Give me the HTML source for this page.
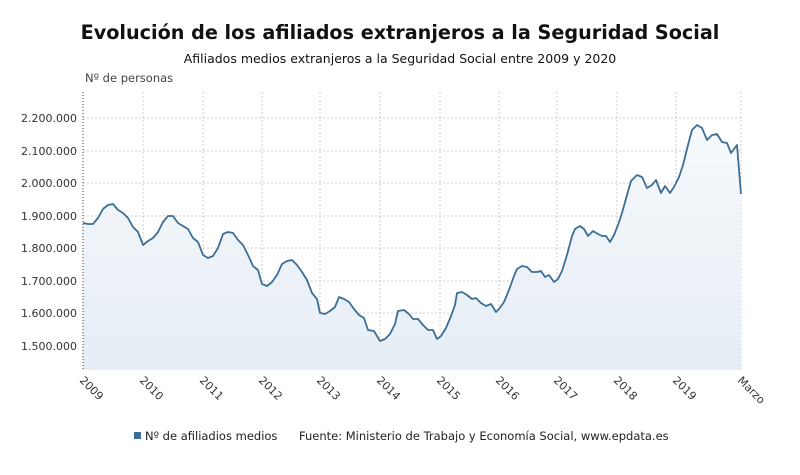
<!DOCTYPE html>
<html><head><meta charset="utf-8"><style>
body{margin:0;background:#fff;width:800px;height:470px;overflow:hidden;font-family:"Liberation Sans","DejaVu Sans",sans-serif}
</style></head><body>
<svg width="800" height="470" xmlns="http://www.w3.org/2000/svg" font-family="'DejaVu Sans','Liberation Sans',sans-serif">
<defs><linearGradient id="g" x1="0" y1="0" x2="0" y2="1"><stop offset="0" stop-color="#f6f9fc"/><stop offset="1" stop-color="#e6edf5"/></linearGradient></defs>
<text x="400" y="39" text-anchor="middle" font-size="19.2" font-weight="bold" fill="#111">Evolución de los afiliados extranjeros a la Seguridad Social</text>
<text x="400" y="63" text-anchor="middle" font-size="12.5" fill="#111">Afiliados medios extranjeros a la Seguridad Social entre 2009 y 2020</text>
<text x="85" y="82" font-size="11.5" fill="#444">Nº de personas</text>
<g stroke="#ccc" stroke-dasharray="2,2" stroke-width="1">
<line x1="83" x2="741" y1="118" y2="118"/><line x1="83" x2="741" y1="151" y2="151"/><line x1="83" x2="741" y1="183" y2="183"/><line x1="83" x2="741" y1="216" y2="216"/><line x1="83" x2="741" y1="248" y2="248"/><line x1="83" x2="741" y1="281" y2="281"/><line x1="83" x2="741" y1="313" y2="313"/><line x1="83" x2="741" y1="346" y2="346"/>
<line x1="143" x2="143" y1="92" y2="370"/><line x1="203" x2="203" y1="92" y2="370"/><line x1="262" x2="262" y1="92" y2="370"/><line x1="320" x2="320" y1="92" y2="370"/><line x1="380" x2="380" y1="92" y2="370"/><line x1="440" x2="440" y1="92" y2="370"/><line x1="499" x2="499" y1="92" y2="370"/><line x1="557" x2="557" y1="92" y2="370"/><line x1="617" x2="617" y1="92" y2="370"/><line x1="676" x2="676" y1="92" y2="370"/><line x1="741" x2="741" y1="92" y2="370"/>
</g>
<polygon fill="url(#g)" points="83,370 83,223 88,224 93,224 98,218 103,209 108,205 113,204 118,210 123,213 128,218 133,227 138,232 143,245 148,241 153,238 158,232 163,222 168,216 173,216 178,223 183,226 188,229 193,238 198,242 203,255 208,258 213,256 218,248 223,234 228,232 233,233 238,240 243,245 248,255 253,266 258,270 262,284 267,286 272,282 277,275 282,264 287,261 292,260 297,265 302,272 307,280 312,293 317,299 320,313 325,314 330,311 335,307 339,297 344,299 349,302 354,309 359,315 364,318 368,330 374,331 380,341 385,339 390,334 395,324 398,311 404,310 409,314 413,319 418,319 423,325 428,330 433,330 437,339 441,336 446,328 451,316 455,305 457,293 462,292 467,295 472,299 476,298 481,303 486,306 491,304 496,312 499,309 504,302 509,290 514,276 517,269 522,266 527,267 532,272 537,272 541,271 545,277 549,275 554,282 558,279 562,271 567,255 572,236 575,229 580,226 584,229 588,236 593,231 598,234 602,236 606,236 610,242 614,235 618,225 622,213 627,195 631,181 637,175 642,177 647,188 652,185 656,180 661,193 665,186 670,193 674,187 679,177 683,165 688,145 692,130 697,125 702,128 707,140 712,135 717,134 722,142 727,143 731,153 737,145 741,194 741,370"/>
<polyline fill="none" stroke="#3c6e97" stroke-width="1.8" stroke-linejoin="round" points="83,223 88,224 93,224 98,218 103,209 108,205 113,204 118,210 123,213 128,218 133,227 138,232 143,245 148,241 153,238 158,232 163,222 168,216 173,216 178,223 183,226 188,229 193,238 198,242 203,255 208,258 213,256 218,248 223,234 228,232 233,233 238,240 243,245 248,255 253,266 258,270 262,284 267,286 272,282 277,275 282,264 287,261 292,260 297,265 302,272 307,280 312,293 317,299 320,313 325,314 330,311 335,307 339,297 344,299 349,302 354,309 359,315 364,318 368,330 374,331 380,341 385,339 390,334 395,324 398,311 404,310 409,314 413,319 418,319 423,325 428,330 433,330 437,339 441,336 446,328 451,316 455,305 457,293 462,292 467,295 472,299 476,298 481,303 486,306 491,304 496,312 499,309 504,302 509,290 514,276 517,269 522,266 527,267 532,272 537,272 541,271 545,277 549,275 554,282 558,279 562,271 567,255 572,236 575,229 580,226 584,229 588,236 593,231 598,234 602,236 606,236 610,242 614,235 618,225 622,213 627,195 631,181 637,175 642,177 647,188 652,185 656,180 661,193 665,186 670,193 674,187 679,177 683,165 688,145 692,130 697,125 702,128 707,140 712,135 717,134 722,142 727,143 731,153 737,145 741,194"/>
<line x1="83" x2="83" y1="92" y2="370" stroke="#333" stroke-dasharray="1,2"/>
<g font-size="11" fill="#333" text-anchor="end">
<text x="77" y="122">2.200.000</text><text x="77" y="155">2.100.000</text><text x="77" y="187">2.000.000</text><text x="77" y="220">1.900.000</text><text x="77" y="252">1.800.000</text><text x="77" y="285">1.700.000</text><text x="77" y="317">1.600.000</text><text x="77" y="350">1.500.000</text>
</g>
<g font-size="11" fill="#333">
<text transform="translate(79,381) rotate(45)">2009</text><text transform="translate(139,381) rotate(45)">2010</text><text transform="translate(199,381) rotate(45)">2011</text><text transform="translate(258,381) rotate(45)">2012</text><text transform="translate(316,381) rotate(45)">2013</text><text transform="translate(376,381) rotate(45)">2014</text><text transform="translate(436,381) rotate(45)">2015</text><text transform="translate(495,381) rotate(45)">2016</text><text transform="translate(553,381) rotate(45)">2017</text><text transform="translate(613,381) rotate(45)">2018</text><text transform="translate(672,381) rotate(45)">2019</text><text transform="translate(737,381) rotate(45)">Marzo</text>
</g>
<rect x="134" y="432" width="7" height="7" fill="#3c6e97"/>
<text x="145" y="440" font-size="11.5" fill="#222">Nº de afiliadios medios</text>
<text x="299" y="440" font-size="11.5" fill="#222">Fuente: Ministerio de Trabajo y Economía Social, www.epdata.es</text>
</svg>
</body></html>
